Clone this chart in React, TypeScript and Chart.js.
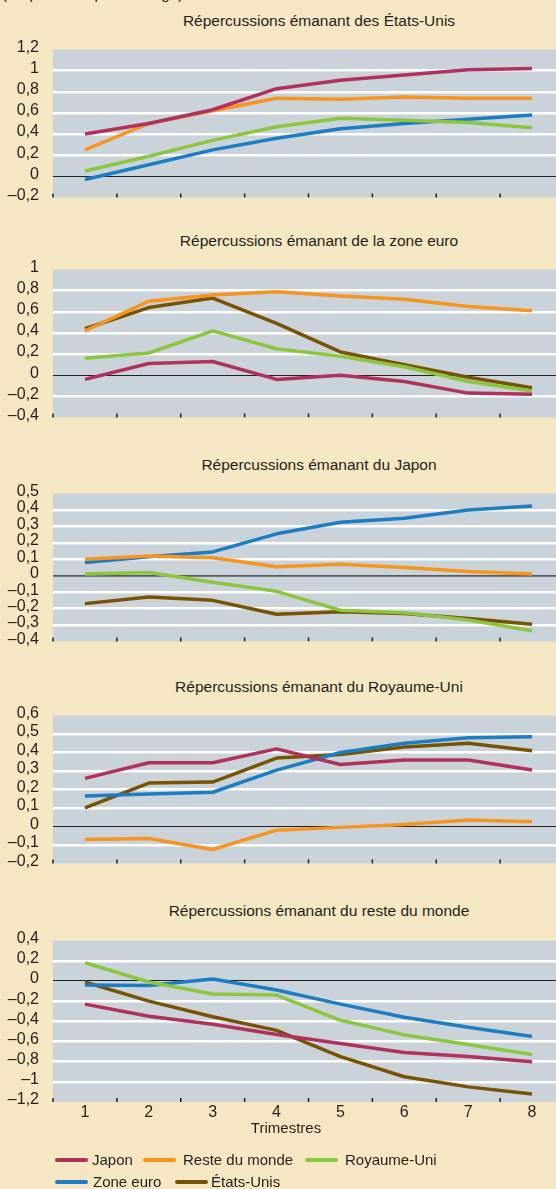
import React, { useEffect, useRef } from 'react';
import { Chart, registerables } from 'chart.js';

Chart.register(...registerables);

// ---------- data ----------
const trimestres = ['1', '2', '3', '4', '5', '6', '7', '8'];
const seriesNames = ['Japon', 'Reste du monde', 'Royaume-Uni', 'Zone euro', 'États-Unis'];
const seriesColors = ['#B2305C', '#F7941E', '#8CC63F', '#1B7DC2', '#7A5203'];

const panelTitles = [
  'Répercussions émanant des États-Unis',
  'Répercussions émanant de la zone euro',
  'Répercussions émanant du Japon',
  'Répercussions émanant du Royaume-Uni',
  'Répercussions émanant du reste du monde',
];
const yMins = [-0.2, -0.4, -0.4, -0.2, -1.2];
const yMaxs = [1.2, 1, 0.5, 0.6, 0.4];
const ySteps = [0.2, 0.2, 0.1, 0.1, 0.2];

// Panel 1 : États-Unis
const usJapon = [0.40, 0.50, 0.63, 0.83, 0.91, 0.96, 1.01, 1.02];
const usReste = [0.25, 0.50, 0.62, 0.74, 0.73, 0.75, 0.74, 0.74];
const usRoyaumeUni = [0.05, 0.19, 0.34, 0.47, 0.55, 0.53, 0.51, 0.46];
const usZoneEuro = [-0.03, 0.11, 0.25, 0.36, 0.45, 0.50, 0.54, 0.58];

// Panel 2 : zone euro
const zeJapon = [-0.04, 0.11, 0.13, -0.04, 0.0, -0.06, -0.17, -0.18];
const zeReste = [0.42, 0.70, 0.76, 0.79, 0.75, 0.72, 0.65, 0.61];
const zeRoyaumeUni = [0.16, 0.21, 0.42, 0.25, 0.18, 0.08, -0.06, -0.15];
const zeEtatsUnis = [0.44, 0.64, 0.73, 0.49, 0.22, 0.10, -0.02, -0.12];

// Panel 3 : Japon
const jpReste = [0.10, 0.12, 0.11, 0.055, 0.07, 0.05, 0.025, 0.01];
const jpRoyaumeUni = [0.01, 0.02, -0.04, -0.095, -0.21, -0.225, -0.27, -0.335];
const jpZoneEuro = [0.08, 0.115, 0.145, 0.255, 0.325, 0.35, 0.40, 0.425];
const jpEtatsUnis = [-0.17, -0.13, -0.15, -0.235, -0.22, -0.23, -0.26, -0.295];

// Panel 4 : Royaume-Uni
const ukJapon = [0.26, 0.345, 0.345, 0.42, 0.335, 0.36, 0.36, 0.305];
const ukReste = [-0.07, -0.065, -0.125, -0.02, -0.005, 0.01, 0.035, 0.025];
const ukZoneEuro = [0.165, 0.175, 0.185, 0.305, 0.40, 0.45, 0.48, 0.485];
const ukEtatsUnis = [0.10, 0.235, 0.24, 0.37, 0.39, 0.43, 0.45, 0.41];

// Panel 5 : reste du monde
const rmJapon = [-0.23, -0.35, -0.43, -0.53, -0.62, -0.71, -0.75, -0.80];
const rmRoyaumeUni = [0.18, -0.01, -0.13, -0.14, -0.39, -0.535, -0.63, -0.73];
const rmZoneEuro = [-0.04, -0.045, 0.02, -0.09, -0.23, -0.36, -0.46, -0.55];
const rmEtatsUnis = [-0.01, -0.20, -0.355, -0.49, -0.75, -0.95, -1.05, -1.12];

// series index per panel: [seriesIndex, values]
const panelSeries: [number, number[]][][] = [
  [[0, usJapon], [1, usReste], [2, usRoyaumeUni], [3, usZoneEuro]],
  [[0, zeJapon], [1, zeReste], [2, zeRoyaumeUni], [4, zeEtatsUnis]],
  [[1, jpReste], [2, jpRoyaumeUni], [3, jpZoneEuro], [4, jpEtatsUnis]],
  [[0, ukJapon], [1, ukReste], [3, ukZoneEuro], [4, ukEtatsUnis]],
  [[0, rmJapon], [2, rmRoyaumeUni], [3, rmZoneEuro], [4, rmEtatsUnis]],
];

// ---------- style ----------
const FONT = '"Liberation Sans", Arial, sans-serif';
const TEXT = '#231F20';
const CREAM = '#F5E7C4';
const PLOT_BG = '#CBD3DA';

const canvasTops = [26, 246, 470, 692, 917];
const titleCenters = [21, 241, 465, 687, 911];

const fmt = (v: number) => {
  const r = Math.round(v * 10) / 10;
  return (r < 0 ? '\u2013' : '') + String(Math.abs(r)).replace('.', ',');
};

const bgPlugin = {
  id: 'plotBg',
  beforeDraw(chart: any) {
    const { ctx, chartArea } = chart;
    ctx.save();
    ctx.fillStyle = PLOT_BG;
    ctx.fillRect(chartArea.left, chartArea.top, chartArea.right - chartArea.left, chartArea.bottom - chartArea.top);
    ctx.restore();
  },
};

const tickMarksPlugin = {
  id: 'tickMarks',
  beforeDatasetsDraw(chart: any) {
    const { ctx, chartArea } = chart;
    const xs = chart.scales.x;
    const n = chart.data.labels.length;
    const p0 = xs.getPixelForValue(0);
    const p1 = xs.getPixelForValue(1);
    const w = p1 - p0;
    ctx.save();
    ctx.strokeStyle = TEXT;
    ctx.lineWidth = 1.5;
    for (let i = 0; i <= n; i++) {
      const x = p0 - w / 2 + i * w;
      ctx.beginPath();
      ctx.moveTo(x, chartArea.bottom - 4);
      ctx.lineTo(x, chartArea.bottom);
      ctx.stroke();
    }
    ctx.restore();
  },
};

function Panel({ index }: { index: number }) {
  const ref = useRef<HTMLCanvasElement>(null);
  const showX = index === 4;
  useEffect(() => {
    if (!ref.current) return;
    const min = yMins[index];
    const max = yMaxs[index];
    const chart = new Chart(ref.current, {
      type: 'line',
      data: {
        labels: trimestres,
        datasets: panelSeries[index].map(([s, values]) => ({
          label: seriesNames[s],
          data: values,
          borderColor: seriesColors[s],
          backgroundColor: seriesColors[s],
          borderWidth: 3.5,
          pointRadius: 0,
          tension: 0,
          fill: false,
          borderCapStyle: 'butt',
          borderJoinStyle: 'round',
        })),
      },
      options: {
        responsive: false,
        animation: false,
        layout: { padding: { top: 10, bottom: showX ? 0 : 10, left: 0, right: 0 } },
        plugins: {
          legend: { display: false },
          tooltip: { enabled: false },
          title: { display: false },
        },
        scales: {
          x: {
            type: 'category',
            offset: true,
            grid: { display: false },
            border: { display: false },
            ticks: {
              display: showX,
              padding: -7,
              color: TEXT,
              font: { family: FONT, size: 16 },
              maxRotation: 0,
              autoSkip: false,
            },
            afterFit: (s: any) => {
              s.height = showX ? 24 : 0;
            },
          },
          y: {
            min,
            max,
            ticks: {
              stepSize: ySteps[index],
              autoSkip: false,
              padding: 14,
              color: TEXT,
              labelOffset: -2,
              font: { family: FONT, size: 16 },
              callback: (v: any) => fmt(Number(v)),
            },
            grid: {
              drawTicks: false,
              color: (ctx: any) => {
                const v = ctx.tick ? ctx.tick.value : NaN;
                if (Math.abs(v) < 1e-9) return index === 2 ? '#5A5A5A' : TEXT;
                if (Math.abs(v - min) < 1e-9 || Math.abs(v - max) < 1e-9) return 'rgba(0,0,0,0)';
                return '#FFFFFF';
              },
              lineWidth: (ctx: any) => {
                const v = ctx.tick ? ctx.tick.value : NaN;
                if (Math.abs(v) < 1e-9) return index === 2 ? 1.8 : 1;
                return 2.5;
              },
            },
            border: { display: false },
            afterFit: (s: any) => {
              s.width = 53;
            },
          },
        },
      } as any,
      plugins: [bgPlugin, tickMarksPlugin],
    });
    return () => chart.destroy();
  }, [index]);

  const height = showX ? 10 + 175 + 24 : 10 + 175 + 10;
  return (
    <>
      <div
        style={{
          position: 'absolute',
          left: 0,
          width: 638,
          top: titleCenters[index] - 10,
          height: 20,
          lineHeight: '20px',
          textAlign: 'center',
          fontFamily: FONT,
          fontSize: 15.5,
          color: TEXT,
          whiteSpace: 'nowrap',
        }}
      >
        {panelTitles[index]}
      </div>
      <canvas
        ref={ref}
        width={564}
        height={height}
        style={{ position: 'absolute', left: 0, top: canvasTops[index], width: 564, height }}
      />
    </>
  );
}

const legendRows = [
  [
    { s: 0, line: 55, text: 92, y: 1160 },
    { s: 1, line: 143, text: 183, y: 1160 },
    { s: 2, line: 305, text: 345, y: 1160 },
  ],
  [
    { s: 3, line: 55, text: 93, y: 1182 },
    { s: 4, line: 175, text: 211, y: 1182 },
  ],
];

export default function App() {
  return (
    <div
      style={{
        position: 'absolute',
        left: 0,
        top: 0,
        width: 556,
        height: 1189,
        overflow: 'hidden',
        background: CREAM,
        fontFamily: FONT,
        color: TEXT,
      }}
    >
      <div style={{ position: 'absolute', left: 2, top: -14, fontSize: 15, lineHeight: '15px', whiteSpace: 'nowrap' }}>
        (En points de pourcentage)
      </div>
      {[0, 1, 2, 3, 4].map((i) => (
        <Panel key={i} index={i} />
      ))}
      <div
        style={{
          position: 'absolute',
          left: 186,
          width: 200,
          top: 1118,
          lineHeight: '20px',
          textAlign: 'center',
          fontSize: 15,
        }}
      >
        Trimestres
      </div>
      {legendRows.flat().map((it) => (
        <React.Fragment key={it.s}>
          <div
            style={{
              position: 'absolute',
              left: it.line,
              top: it.y - 2,
              width: 33,
              height: 4,
              borderRadius: 2,
              background: seriesColors[it.s],
            }}
          />
          <div
            style={{
              position: 'absolute',
              left: it.text,
              top: it.y - 10,
              lineHeight: '20px',
              fontSize: 15,
              whiteSpace: 'nowrap',
            }}
          >
            {seriesNames[it.s]}
          </div>
        </React.Fragment>
      ))}
    </div>
  );
}
